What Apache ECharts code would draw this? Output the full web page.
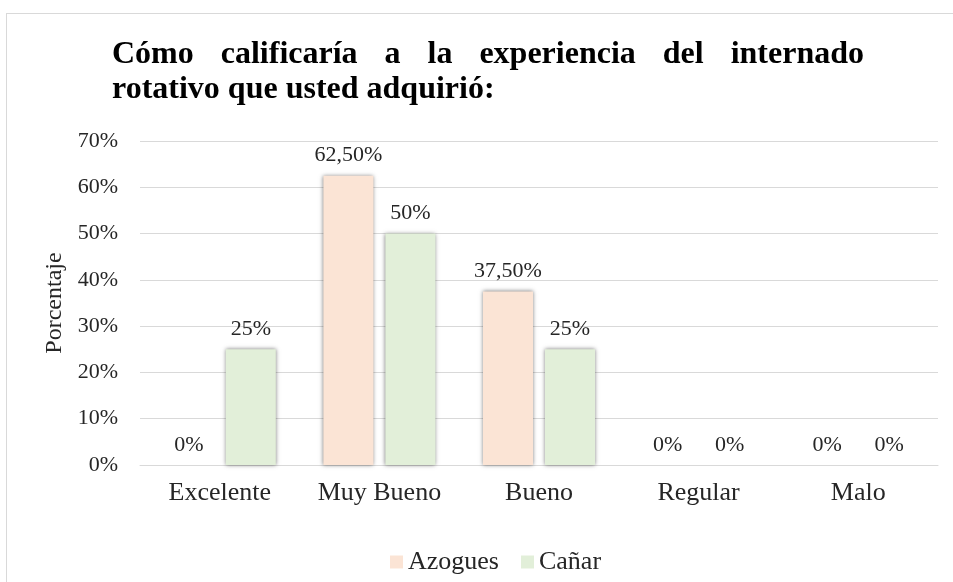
<!DOCTYPE html>
<html>
<head>
<meta charset="utf-8">
<script src="https://cdn.jsdelivr.net/npm/echarts@6/dist/echarts.min.js"></script>
<style>
  html, body { margin: 0; padding: 0; background: #fff; }
  #frame { position: absolute; left: 6px; top: 13px; width: 960px; height: 580px; border: 1px solid #d9d9d9; box-sizing: border-box; }
  #chart { position: absolute; left: 0; top: 0; width: 953px; height: 582px; }
</style>
</head>
<body>
<div id="frame"></div>
<div id="chart"></div>
<script>
  // datos de la encuesta
  const categories = ['Excelente', 'Muy Bueno', 'Bueno', 'Regular', 'Malo'];
  const azogues = [0, 62.5, 37.5, 0, 0];
  const canar = [25, 50, 25, 0, 0];
  const seriesNames = ['Azogues', 'Cañar'];
  const titleLine1 = 'Cómo calificaría a la experiencia del internado';
  const titleLine2 = 'rotativo que usted adquirió:';

  const serif = '"Liberation Serif", "Times New Roman", serif';
  const titleFont = 'bold 32px ' + serif;

  // primera línea del título justificada (como en Word)
  function justifiedWords(text, x0, x1, y) {
    const ctx = document.createElement('canvas').getContext('2d');
    ctx.font = titleFont;
    const words = text.split(' ');
    const widths = words.map(w => ctx.measureText(w).width);
    const total = widths.reduce((a, b) => a + b, 0);
    const gap = (x1 - x0 - total) / (words.length - 1);
    let x = x0;
    return words.map((w, i) => {
      const el = {
        type: 'text', left: x, top: y,
        style: { text: w, font: titleFont, fill: '#000' }
      };
      x += widths[i] + gap;
      return el;
    });
  }

  function pct(v) {
    return (Number.isInteger(v) ? String(v) : v.toFixed(2).replace('.', ',')) + '%';
  }

  const chart = echarts.init(document.getElementById('chart'));

  const barStyle = function (color) {
    return {
      color: color,
      shadowColor: 'rgba(0,0,0,0.5)',
      shadowBlur: 4,
      shadowOffsetX: 0,
      shadowOffsetY: 0
    };
  };

  const labelStyle = {
    show: true,
    position: 'top',
    distance: 9,
    fontFamily: serif,
    fontSize: 22,
    color: '#262626',
    formatter: p => pct(p.value)
  };

  const option = {
    animation: false,
    textStyle: { fontFamily: serif },
    graphic: justifiedWords(titleLine1, 112, 864, 39).concat([
      { type: 'text', left: 112, top: 74, style: { text: titleLine2, font: titleFont, fill: '#000' } }
    ]),
    grid: { left: 140, right: 15, top: 141, bottom: 117, containLabel: false },
    legend: {
      data: seriesNames,
      top: 544,
      left: 385,
      itemWidth: 13,
      itemHeight: 13,
      itemGap: 22,
      icon: 'rect',
      textStyle: { fontFamily: serif, fontSize: 26, color: '#262626' }
    },
    xAxis: {
      type: 'category',
      data: categories,
      axisTick: { show: false },
      axisLine: { lineStyle: { color: '#d9d9d9' } },
      axisLabel: { interval: 0, fontFamily: serif, fontSize: 26, color: '#262626', margin: 15 }
    },
    yAxis: {
      type: 'value',
      min: 0,
      max: 70,
      interval: 10,
      name: 'Porcentaje',
      nameLocation: 'middle',
      nameGap: 72,
      nameTextStyle: { fontFamily: serif, fontSize: 24, color: '#262626' },
      axisLine: { show: false },
      axisTick: { show: false },
      axisLabel: { formatter: '{value}%', fontFamily: serif, fontSize: 22, color: '#262626', margin: 22 },
      splitLine: { lineStyle: { color: '#d9d9d9' } }
    },
    series: [
      {
        name: seriesNames[0], type: 'bar', data: azogues,
        barWidth: 50, barGap: '24%',
        itemStyle: barStyle('#fbe4d5'),
        label: labelStyle
      },
      {
        name: seriesNames[1], type: 'bar', data: canar,
        barWidth: 50,
        itemStyle: barStyle('#e2efd9'),
        label: labelStyle
      }
    ]
  };

  chart.setOption(option);
</script>
</body>
</html>
